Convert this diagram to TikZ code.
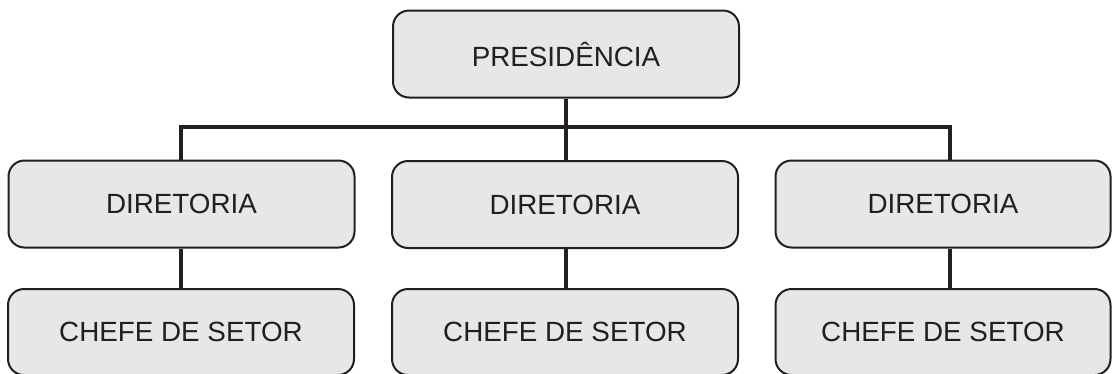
\documentclass[tikz,border=0pt]{standalone}
\usepackage{fontspec}
\setmainfont{Liberation Sans}
\definecolor{boxfill}{HTML}{E6E7E8}
\definecolor{ink}{HTML}{231F20}
\begin{document}
\begin{tikzpicture}[x=1pt,y=-1pt,
  orgbox/.style={draw=ink, line width=2pt, fill=boxfill, rounded corners=16pt,
    rectangle, inner sep=0pt, font=\fontsize{27.8}{33}\selectfont, text=ink},
  link/.style={draw=ink, line width=4pt}]
\useasboundingbox (0,0) rectangle (1112,373);
\node[orgbox, minimum width=346pt, minimum height=87pt] (pres) at (566,54) {PRESIDÊNCIA};
\node[orgbox, minimum width=346pt, minimum height=87pt] (d1) at (181.5,204) {DIRETORIA};
\node[orgbox, minimum width=346pt, minimum height=87pt] (d2) at (565,204.5) {DIRETORIA};
\node[orgbox, minimum width=335pt, minimum height=87pt] (d3) at (943,204) {DIRETORIA};
\node[orgbox, minimum width=346pt, minimum height=86pt] (c1) at (181,332) {CHEFE DE SETOR};
\node[orgbox, minimum width=346pt, minimum height=86pt] (c2) at (565,332) {CHEFE DE SETOR};
\node[orgbox, minimum width=335pt, minimum height=86pt] (c3) at (943,332) {CHEFE DE SETOR};
\coordinate (jl) at (181,127);
\coordinate (jr) at (950,127);
\draw[link] (pres.south -| 566,0) -- (d2.north -| 566,0);
\draw[link, line cap=rect] (jl) -- (jr);
\draw[link] (jl) -- (d1.north -| jl);
\draw[link] (jr) -- (d3.north -| jr);
\draw[link] (d1.south -| jl) -- (c1.north -| jl);
\draw[link] (d2.south -| 566,0) -- (c2.north -| 566,0);
\draw[link] (d3.south -| jr) -- (c3.north -| jr);
\end{tikzpicture}
\end{document}
